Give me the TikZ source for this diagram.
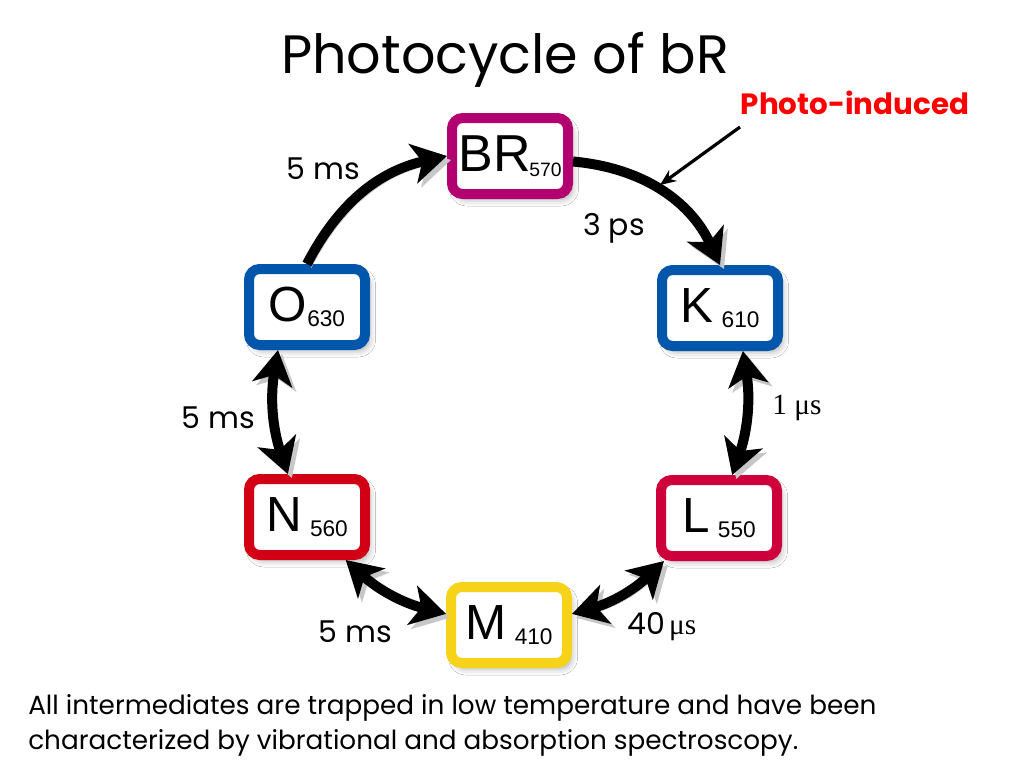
\documentclass[tikz,border=0pt]{standalone}
\usepackage{fontspec}
\setmainfont{Liberation Sans}
\newfontfamily\comic{Poppins}
\newfontfamily\serifm{Liberation Serif}
\usetikzlibrary{arrows.meta,shadows.blur}
\definecolor{cBR}{RGB}{178,0,112}
\definecolor{cK}{RGB}{0,86,170}
\definecolor{cL}{RGB}{206,0,60}
\definecolor{cN}{RGB}{210,0,20}
\definecolor{cM}{RGB}{246,210,24}
\newcommand\subt[1]{\raisebox{-4pt}{\fontsize{17}{17}\selectfont #1}}
\newcommand\subtsmall[1]{\raisebox{-4pt}{\fontsize{14.5}{14.5}\selectfont #1}}
\tikzset{
  state/.style={draw=#1, fill=white, line width=7.5pt, rounded corners=8pt,
    minimum width=87pt, minimum height=57pt, inner sep=0pt,
    font=\fontsize{37}{37}\selectfont,
    blur shadow={shadow xshift=3pt, shadow yshift=-4pt, shadow blur radius=5pt, shadow opacity=35}},
  bigtip/.tip={Stealth[length=26pt,width=30pt,inset=7pt]},
  cyc/.style={line width=7.5pt,
    preaction={draw=black!22, transform canvas={shift={(3pt,-3pt)}}}},
  lbl/.style={font=\comic\fontsize{22.5}{22.5}\selectfont, inner sep=0pt},
  slbl/.style={font=\serifm\fontsize{22}{22}\selectfont, inner sep=0pt},
}
\begin{document}
\begin{tikzpicture}[x=0.75pt,y=-0.75pt]
\path[use as bounding box, fill=white] (0,0) rectangle (1024,768);

\node[font=\comic\fontsize{40.5}{40.5}\selectfont] (title) at (505,60) {Photocycle of bR};

\node[state=cBR] (BR) at (510,156) {\fontsize{39}{39}\selectfont BR\kern-1pt\subtsmall{570}};
\node[state=cK]  (K)  at (720,308) {K\,\subt{610}};
\node[state=cK]  (O)  at (307,307) {O\subt{630}};
\node[state=cL]  (L)  at (719,518) {L\,\subt{550}};
\node[state=cN]  (N)  at (307,517) {N\,\subt{560}};
\node[state=cM]  (M)  at (509,625) {M\,\subt{410}};

\draw[cyc,-bigtip] (O.north) to[bend left=25] (BR.west);
\draw[cyc,-bigtip] (BR.-5) to[bend left=30] (K.north);
\draw[cyc,bigtip-bigtip] (K.-62) to[bend left=14] (L.73);
\draw[cyc,bigtip-bigtip] (L.-142) to[bend left=14] (M.10);
\draw[cyc,bigtip-bigtip] (M.170) to[bend left=14] (N.-48);
\draw[cyc,bigtip-bigtip] (N.114) to[bend left=14] (O.-124);

\node[lbl] (t1) at (323,169) {5 ms};
\node[lbl] (t2) at (614,228) {3 ps};
\node[slbl] (t3) at (797,408) {1 μs};
\node[lbl] (t4) at (218,418) {5 ms};
\node[lbl] (t5) at (355,632) {5 ms};
\node[inner sep=0pt] (t6) at (662,627) {{\comic\fontsize{22.5}{22.5}\selectfont 40} {\serifm\fontsize{22}{22}\selectfont μs}};

\node[font=\comic\bfseries\fontsize{22}{22}\selectfont, text=red, inner sep=0pt] (photo) at (855,103) {Photo-induced};
\coordinate (pa) at (740,127);
\coordinate (pb) at (660,185);
\draw[line width=2.4pt, -{Stealth[length=12pt,width=10pt]}] (pa) -- (pb);

\node[font=\comic\fontsize{19.7}{26.5}\selectfont, align=left, anchor=north west, inner sep=0pt] (note) at (28,694)
  {All intermediates are trapped in low temperature and have been\\characterized by vibrational and absorption spectroscopy.};
\end{tikzpicture}
\end{document}
